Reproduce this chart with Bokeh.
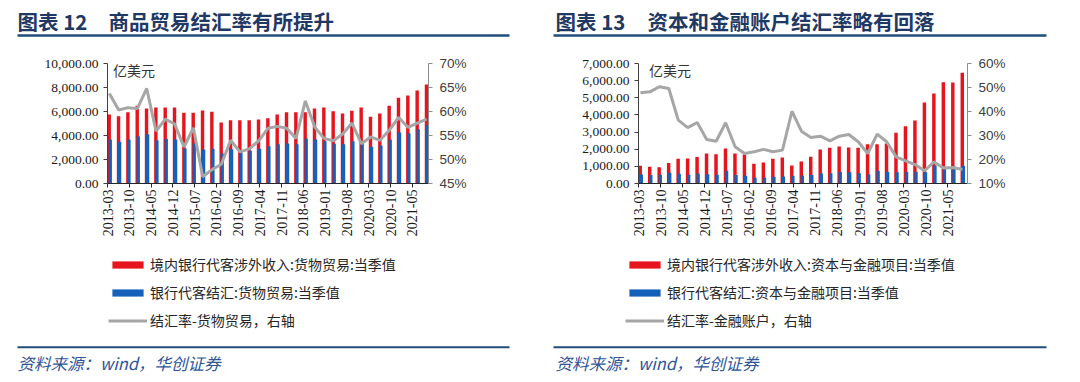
from bokeh.plotting import figure
from bokeh.layouts import row, column
from bokeh.models import (Range1d, LinearAxis, FixedTicker, NumeralTickFormatter,
                          PrintfTickFormatter, Label, Legend, LegendItem, ColumnDataSource)
from bokeh.embed import file_html
from bokeh.resources import INLINE
import math

# ---------------- data ----------------
quarters = ["2013-03", "2013-06", "2013-09", "2013-12", "2014-03", "2014-06", "2014-09", "2014-12",
            "2015-03", "2015-06", "2015-09", "2015-12", "2016-03", "2016-06", "2016-09", "2016-12",
            "2017-03", "2017-06", "2017-09", "2017-12", "2018-03", "2018-06", "2018-09", "2018-12",
            "2019-03", "2019-06", "2019-09", "2019-12", "2020-03", "2020-06", "2020-09", "2020-12",
            "2021-03", "2021-06", "2021-09"]
tick_labels = ["2013-03", "2013-10", "2014-05", "2014-12", "2015-07", "2016-02", "2016-09",
               "2017-04", "2017-11", "2018-06", "2019-01", "2019-08", "2020-03", "2020-10", "2021-05"]

# chart 12 : goods trade (100m USD, %)
goods_receipts = [5750, 5610, 5940, 6470, 6250, 6330, 6330, 6330, 5890, 5890, 6080, 5970,
                  5080, 5280, 5280, 5280, 5330, 5440, 5750, 5940, 5940, 5940, 6250, 6330,
                  6030, 5830, 6060, 6330, 5560, 5830, 6470, 7140, 7330, 7750, 8250]
goods_settle = [3670, 3470, 3670, 3940, 4110, 3610, 3720, 3670, 2920, 3330, 2830, 2890,
                2500, 2860, 2580, 2720, 2890, 3110, 3280, 3330, 3280, 3750, 3670, 3530,
                3310, 3280, 3530, 3330, 3060, 3170, 3670, 4250, 4190, 4530, 4860]
goods_rate = [63.75, 60.3, 60.8, 60.6, 64.8, 55.9, 58.4, 57.4, 52.6, 56.6, 46.4, 47.9,
              49.0, 54.0, 51.6, 52.2, 53.9, 56.5, 56.9, 56.5, 54.4, 62.2, 56.8, 54.4,
              53.9, 55.3, 57.6, 53.3, 54.7, 54.0, 56.1, 58.75, 56.7, 57.6, 58.4]

# chart 13 : capital & financial account
cap_receipts = [1030, 970, 950, 1200, 1440, 1460, 1540, 1750, 1710, 2040, 1750, 1690,
                1150, 1220, 1440, 1520, 1050, 1280, 1560, 1980, 2080, 2160, 2100, 2080,
                2290, 2290, 2330, 2960, 3340, 3680, 4720, 5250, 5910, 5890, 6460]
cap_settle = [525, 490, 505, 620, 565, 505, 585, 545, 505, 740, 490, 450,
              330, 350, 390, 410, 450, 470, 490, 585, 600, 680, 660, 600,
              545, 740, 680, 660, 680, 680, 660, 1050, 855, 970, 1030]
cap_rate = [47.8, 48.2, 50.3, 49.6, 36.4, 33.3, 35.4, 28.3, 27.6, 35.3, 25.3, 22.5,
            23.2, 24.2, 23.2, 23.9, 40.1, 31.8, 29.2, 29.7, 27.8, 29.7, 30.4, 27.4,
            22.5, 30.6, 27.4, 21.1, 19.4, 17.9, 15.3, 19.0, 16.5, 16.7, 15.8]

titles_no = ["图表 12", "图表 13"]
titles = ["商品贸易结汇率有所提升", "资本和金融账户结汇率略有回落"]
legend_1 = ["境内银行代客涉外收入:货物贸易:当季值", "银行代客结汇:货物贸易:当季值", "结汇率-货物贸易，右轴"]
legend_2 = ["境内银行代客涉外收入:资本与金融项目:当季值", "银行代客结汇:资本与金融项目:当季值", "结汇率-金融账户，右轴"]
source_text = "资料来源：wind，华创证券"
unit_text = "亿美元"

# ---------------- styles ----------------
RED = "#E5141D"
BLUE = "#1560B9"
GREY = "#A6A6A6"
NAVY = "#1F3864"
RULE = "#1F4E79"
CJK = "Noto Sans CJK SC"
SERIF = "Liberation Serif"
SANS = "Liberation Sans"
PW = 540
NAN = float("nan")


def month_index(s):
    y, m = s.split("-")
    return (int(y) - 2013) * 12 + (int(m) - 3)


def blank_fig(h):
    f = figure(width=PW, height=h, x_range=Range1d(0, PW), y_range=Range1d(0, h),
               x_axis_type=None, y_axis_type=None, toolbar_location=None,
               output_backend="svg", min_border=0,
               min_border_left=0, min_border_right=0, min_border_top=0, min_border_bottom=0)
    f.outline_line_color = None
    f.xgrid.visible = False
    f.ygrid.visible = False
    return f


def title_fig(no, text, x0, x_text, rule_x0, rule_x1):
    f = blank_fig(42)
    f.add_layout(Label(x=x0, y=22, text=no, text_font=CJK, text_font_size="20.5px",
                       text_font_style="bold", text_color=NAVY, text_baseline="middle"))
    f.add_layout(Label(x=x_text, y=22, text=text, text_font=CJK, text_font_size="20.5px",
                       text_font_style="bold", text_color=NAVY, text_baseline="middle"))
    f.segment(x0=[rule_x0], y0=[7], x1=[rule_x1], y1=[7], line_color=RULE, line_width=2.5)
    return f


def chart_fig(receipts, settle, rate, ymax, ystep, plo, phi, pstep, bl, fw, xmax, unit_xy):
    xs = [month_index(q) for q in quarters]
    src = ColumnDataSource(dict(
        xr=[x + 0.55 for x in xs], xb=[x + 0.9 for x in xs], xl=[x + 0.6 for x in xs],
        rec=receipts, set=settle, rate=rate))
    f = figure(width=PW, height=208, x_range=Range1d(0, xmax), y_range=Range1d(0, ymax),
               toolbar_location=None, output_backend="svg",
               min_border_left=bl, min_border_right=PW - bl - fw,
               min_border_top=21, min_border_bottom=67)
    f.outline_line_color = None
    f.xgrid.visible = False
    f.ygrid.visible = False
    f.extra_y_ranges = {"pct": Range1d(plo, phi)}

    f.vbar(x="xr", top="rec", width=1.1, source=src, fill_color=RED, line_color=None)
    f.vbar(x="xb", top="set", width=1.05, source=src, fill_color=BLUE, line_color=None)
    f.line(x="xl", y="rate", source=src, y_range_name="pct", line_color=GREY, line_width=3)

    tpos = [month_index(t) for t in tick_labels]
    xa = f.xaxis[0]
    xa.ticker = FixedTicker(ticks=tpos, minor_ticks=[])
    xa.major_label_overrides = {p: t for p, t in zip(tpos, tick_labels)}
    xa.major_label_orientation = math.pi / 2
    xa.major_label_text_font = SERIF
    xa.major_label_text_font_size = "14px"
    xa.major_label_text_color = "#1a1a1a"
    xa.major_label_standoff = 2
    xa.major_tick_out = 4
    xa.major_tick_in = 0
    xa.minor_tick_out = 0
    xa.axis_line_color = "#262626"
    xa.major_tick_line_color = "#262626"

    ya = f.yaxis[0]
    ya.ticker = FixedTicker(ticks=list(range(0, ymax + 1, ystep)), minor_ticks=[])
    ya.formatter = NumeralTickFormatter(format="0,0.00")
    ya.major_label_text_font = SERIF
    ya.major_label_text_font_size = "13.5px"
    ya.major_label_text_color = "#1a1a1a"
    ya.major_label_standoff = 5
    ya.major_tick_out = 4
    ya.major_tick_in = 0
    ya.minor_tick_out = 0
    ya.axis_line_color = "#404040"
    ya.major_tick_line_color = "#404040"

    ra = LinearAxis(y_range_name="pct",
                    ticker=FixedTicker(ticks=list(range(plo, phi + 1, pstep)), minor_ticks=[]),
                    formatter=PrintfTickFormatter(format="%d%%"))
    ra.major_label_text_font = SANS
    ra.major_label_text_font_size = "13.5px"
    ra.major_label_text_color = "#404040"
    ra.major_label_standoff = 7
    ra.major_tick_out = 4
    ra.major_tick_in = 0
    ra.minor_tick_out = 0
    ra.axis_line_color = "#8C8C8C"
    ra.major_tick_line_color = "#8C8C8C"
    f.add_layout(ra, "right")

    f.add_layout(Label(x=unit_xy[0], y=unit_xy[1], text=unit_text, text_font=CJK,
                       text_font_size="14px", text_color="#333333", text_baseline="middle"))
    return f


def legend_fig(labels, x_loc):
    f = blank_fig(84)
    # legend proxies: one NaN row each, so nothing is drawn in the frame
    proxy = ColumnDataSource(dict(x=[NAN], y=[NAN]))
    r1 = f.vbar(x="x", top="y", width=1, source=proxy, fill_color=RED, line_color=None)
    r2 = f.vbar(x="x", top="y", width=1, source=proxy, fill_color=BLUE, line_color=None)
    r3 = f.line(x="x", y="y", source=proxy, line_color=GREY, line_width=3)
    leg = Legend(items=[LegendItem(label=labels[0], renderers=[r1]),
                        LegendItem(label=labels[1], renderers=[r2]),
                        LegendItem(label=labels[2], renderers=[r3])],
                 location=(x_loc, 4), orientation="vertical",
                 glyph_width=39, glyph_height=9, label_standoff=3, label_height=20,
                 label_width=20, spacing=8, padding=0, margin=0,
                 border_line_color=None, background_fill_alpha=0,
                 label_text_font=CJK, label_text_font_size="14px", label_text_color="#262626")
    f.add_layout(leg)
    return f


def footer_fig(x_text, rule_x0, rule_x1):
    f = blank_fig(48)
    f.segment(x0=[rule_x0], y0=[35.3], x1=[rule_x1], y1=[35.3], line_color=RULE, line_width=2)
    f.add_layout(Label(x=x_text, y=19.5, text=source_text, text_font=CJK,
                       text_font_size="16.5px", text_font_style="italic",
                       text_color="#2F5597", text_baseline="middle"))
    return f


layout = column(
    row(title_fig(titles_no[0], titles[0], 17, 108, 17, 509),
        title_fig(titles_no[1], titles[1], 15, 107, 13, 506), spacing=0),
    row(chart_fig(goods_receipts, goods_settle, goods_rate, 10000, 2000, 45, 70, 5,
                  107, 321, 103.2, (1.8, 9440)),
        chart_fig(cap_receipts, cap_settle, cap_rate, 7000, 1000, 10, 60, 10,
                  98, 329, 104.2, (3.3, 6650)), spacing=0),
    row(legend_fig(legend_1, 108), legend_fig(legend_2, 85), spacing=0),
    row(footer_fig(17, 17, 509), footer_fig(15, 13, 506), spacing=0),
    spacing=0)

open("out.html", "w").write(file_html(layout, INLINE))
